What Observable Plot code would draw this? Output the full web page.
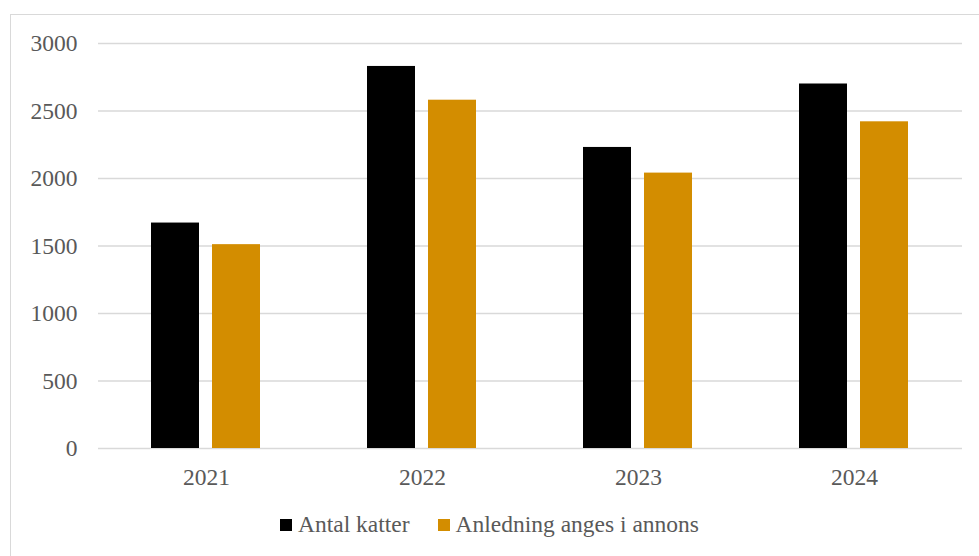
<!DOCTYPE html>
<html>
<head>
<meta charset="utf-8">
<script src="https://cdn.jsdelivr.net/npm/d3@7"></script>
<script src="https://cdn.jsdelivr.net/npm/@observablehq/plot@0.6"></script>
<style>
  html, body { margin: 0; padding: 0; background: #fff; width: 979px; height: 556px; overflow: hidden; }
  #frame { position: absolute; left: 10px; top: 14px; width: 1100px; height: 700px;
           border-left: 1.5px solid #d9d9d9; border-top: 1.5px solid #d9d9d9; }
  #chart { position: absolute; left: 0; top: 0; }
  #legend { position: absolute; left: 0; width: 979px; top: 509px; text-align: center;
            font-family: "Liberation Serif", Tinos, "Times New Roman", Times, "DejaVu Serif", serif; font-size: 23.5px; color: #595959; }
  .item { display: inline-flex; align-items: center; margin: 0 14px; }
  .sw { display: inline-block; width: 12px; height: 12px; margin-right: 6px; position: relative; top: 1px; }
  #chart svg, #chart svg text { font-family: "Liberation Serif", Tinos, "Times New Roman", Times, "DejaVu Serif", serif !important; }
</style>
</head>
<body>
<div id="frame"></div>
<div id="chart"></div>
<div id="legend"></div>
<script>
const years = ["2021", "2022", "2023", "2024"];
const seriesNames = ["Antal katter", "Anledning anges i annons"];
const antalKatter = [1670, 2830, 2230, 2700];
const anledning = [1510, 2580, 2040, 2420];
const yTicks = [0, 500, 1000, 1500, 2000, 2500, 3000];
const colors = ["#000000", "#d38d00"];

const data = years.flatMap((y, i) => [
  {year: y, series: seriesNames[0], value: antalKatter[i]},
  {year: y, series: seriesNames[1], value: anledning[i]}
]);

const chart = Plot.plot({
  width: 979,
  height: 490,
  marginLeft: 96,
  marginRight: 16,
  marginTop: 43,
  marginBottom: 42,
  style: {fontSize: "23.5px", color: "#595959", background: "transparent"},
  fx: {domain: years, padding: 0, tickSize: 0, tickPadding: 20, label: null},
  x: {domain: seriesNames, paddingInner: 0.21, paddingOuter: 0.87, axis: null},
  y: {domain: [0, 3000], ticks: yTicks, tickSize: 0, tickPadding: 21, label: null, tickFormat: d => String(d)},
  color: {domain: seriesNames, range: colors},
  marks: [
    Plot.ruleY(yTicks, {stroke: "#d9d9d9", strokeWidth: 1.5}),
    Plot.barY(data, {fx: "year", x: "series", y: "value", fill: "series"})
  ]
});
document.getElementById("chart").appendChild(chart);

const legend = document.getElementById("legend");
seriesNames.forEach((name, i) => {
  const item = document.createElement("span");
  item.className = "item";
  const sw = document.createElement("span");
  sw.className = "sw";
  sw.style.background = colors[i];
  item.appendChild(sw);
  item.appendChild(document.createTextNode(name));
  legend.appendChild(item);
});
</script>
</body>
</html>
